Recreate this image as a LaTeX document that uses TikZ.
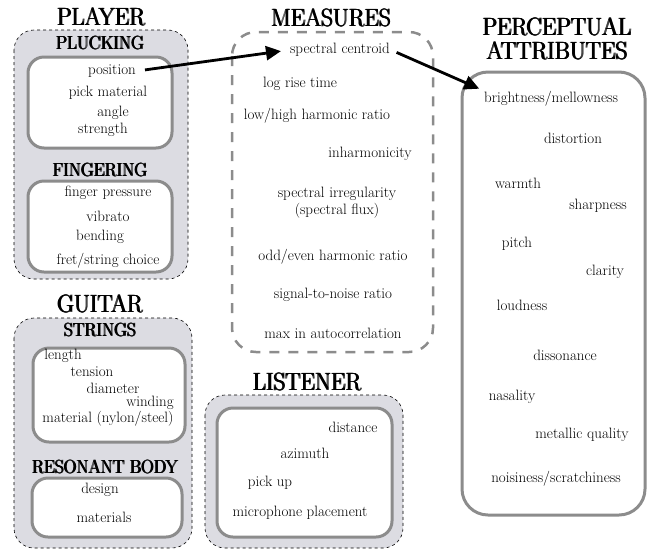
\documentclass[tikz,border=0pt]{standalone}
\usepackage{fontspec}
\usetikzlibrary{arrows.meta}
\definecolor{boxfill}{HTML}{DCDCE2}
\definecolor{boxline}{HTML}{8C8C8C}
\newcommand{\ttl}[1]{\scalebox{0.92}[1]{\rlap{#1}\kern0.5pt\rlap{#1}\kern0.5pt\rlap{#1}\kern0.5pt#1}}
\tikzset{
  outerbox/.style={draw=black, dashed, line width=0.6pt, fill=boxfill, rounded corners=20pt},
  innerbox/.style={draw=boxline, line width=3pt, fill=white, rounded corners=16pt},
  measbox/.style={draw=boxline, line width=2.5pt, dash pattern=on 10pt off 9pt, rounded corners=24pt},
  attrbox/.style={draw=boxline, line width=3pt, fill=white, rounded corners=26pt},
  title/.style={font=\rmfamily\fontsize{25}{26}\selectfont, inner sep=0pt},
  subtitle/.style={font=\rmfamily\fontsize{19}{20}\selectfont, inner sep=0pt},
  item/.style={font=\rmfamily\fontsize{15}{17}\selectfont, inner sep=1pt},
  arr/.style={-{Triangle[length=15pt,width=14pt]}, line width=2.8pt, black},
}
\begin{document}
\begin{tikzpicture}[x=1pt,y=-1pt]
\useasboundingbox (0,0) rectangle (650,550);
% PLAYER
\node[title] (player) at (101,17) {\ttl{PLAYER}};
\draw[outerbox] (14,30) rectangle (188,279);
\node[subtitle] (plucking) at (100,43) {\ttl{PLUCKING}};
\draw[innerbox] (28,57) rectangle (172,148);
\node[item] (position) at (112,71) {position};
\node[item] (pick) at (108,93) {pick material};
\node[item] (angle) at (113,113) {angle};
\node[item] (strength) at (103,130) {strength};
\node[subtitle] (fingering) at (100,170) {\ttl{FINGERING}};
\draw[innerbox] (28,181) rectangle (172,272);
\node[item] (finger) at (108,193) {finger pressure};
\node[item] (vibrato) at (108,216) {vibrato};
\node[item] (bending) at (100,237) {bending};
\node[item] (fret) at (108,261) {fret/string choice};
% GUITAR
\node[title] (guitar) at (100,304) {\ttl{GUITAR}};
\draw[outerbox] (14,318) rectangle (192,548);
\node[subtitle] (strings) at (100,330) {\ttl{STRINGS}};
\draw[innerbox] (33,348) rectangle (185,442);
\node[item] (length) at (63,356) {length};
\node[item] (tension) at (92,372) {tension};
\node[item] (diameter) at (113,388) {diameter};
\node[item] (winding) at (150,403) {winding};
\node[item] (material) at (108,419) {material (nylon/steel)};
\node[subtitle] (resonant) at (105,467) {\ttl{RESONANT BODY}};
\draw[innerbox] (32,478) rectangle (182,537);
\node[item] (design) at (100,490) {design};
\node[item] (materials) at (104,517) {materials};
% MEASURES
\node[title] (measures) at (331,18) {\ttl{MEASURES}};
\draw[measbox] (232,32) rectangle (433,352);
\node[item] (sc) at (340,50) {spectral centroid};
\node[item] (lrt) at (300,84) {log rise time};
\node[item] (lhr) at (317,116) {low/high harmonic ratio};
\node[item] (inh) at (370,154) {inharmonicity};
\node[item,align=center] (sirr) at (337,203) {spectral irregularity\\(spectral flux)};
\node[item] (oeh) at (333,257) {odd/even harmonic ratio};
\node[item] (snr) at (333,295) {signal-to-noise ratio};
\node[item] (maxac) at (333,333) {max in autocorrelation};
% LISTENER
\node[title] (listener) at (307,382) {\ttl{LISTENER}};
\draw[outerbox] (205,395) rectangle (403,548);
\draw[innerbox] (217,408) rectangle (392,537);
\node[item] (distance) at (353,427) {distance};
\node[item] (azimuth) at (305,453) {azimuth};
\node[item] (pickup) at (270,483) {pick up};
\node[item] (mic) at (300,513) {microphone placement};
% PERCEPTUAL ATTRIBUTES
\node[title] (perc1) at (557,27) {\ttl{PERCEPTUAL}};
\node[title] (perc2) at (557,51) {\ttl{ATTRIBUTES}};
\draw[attrbox] (462,72) rectangle (645,515);
\node[item] (bright) at (551,99) {brightness/mellowness};
\node[item] (dist) at (573,138) {distortion};
\node[item] (warmth) at (518,183) {warmth};
\node[item] (sharp) at (598,206) {sharpness};
\node[item] (pitch) at (517,244) {pitch};
\node[item] (clarity) at (605,272) {clarity};
\node[item] (loud) at (522,305) {loudness};
\node[item] (disson) at (565,355) {dissonance};
\node[item] (nasal) at (512,397) {nasality};
\node[item] (metal) at (582,435) {metallic quality};
\node[item] (noise) at (556,479) {noisiness/scratchiness};
% arrows
\draw[arr, shorten <=8pt, shorten >=8pt] (position.east) -- (sc.west);
\draw[arr, shorten <=6pt, shorten >=4pt] (sc.east) -- (bright.north west);
\end{tikzpicture}
\end{document}
